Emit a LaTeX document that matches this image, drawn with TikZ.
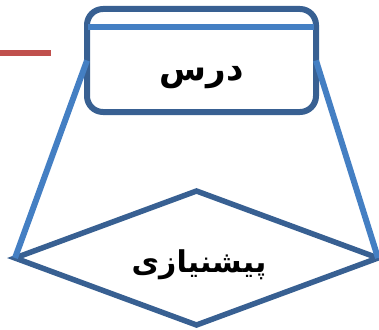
\documentclass[tikz,border=0pt]{standalone}
\usepackage{fontspec}
\usetikzlibrary{shapes.geometric}
\TeXXeTstate=1
\newfontfamily\arabicfont[Script=Arabic]{DejaVu Sans}
\definecolor{DarkBlue}{RGB}{56,96,146}
\definecolor{LightBlue}{RGB}{68,127,195}
\definecolor{LineRed}{RGB}{192,80,77}

\begin{document}
\begin{tikzpicture}[x=1pt,y=-1pt,
  box/.style={draw=DarkBlue,line width=6pt,rounded corners=16pt,minimum width=229pt,
              minimum height=103pt,outer sep=0pt},
  choice/.style={diamond,draw=DarkBlue,line width=5.5pt,minimum width=363pt,
                 minimum height=134pt,inner sep=0pt,outer sep=0pt},
  label/.style={font=\arabicfont\bfseries\fontsize{34}{40}\selectfont},
  link/.style={draw=LightBlue,line width=6pt}
]
\useasboundingbox (0,0) rectangle (379,329);
\node[box] (course) at (201.5,60.5) {};
\node[label] (coursetext) at (201.5,78) {\beginR درس\endR};
\node[choice] (prereq) at (196.5,258) {};
\node[label,font=\arabicfont\bfseries\fontsize{30}{36}\selectfont] (prereqtext) at (199,265) {\beginR پیشنیازی\endR};
\draw[LineRed,line width=6pt] (0,53) -- (51,53);
\draw[link] ([xshift=1pt,yshift=-18pt]course.north west) -- ([xshift=-2pt,yshift=-18pt]course.north east);
\draw[link] (course.west) -- (prereq.west);
\draw[link] (course.east) -- (prereq.east);
\end{tikzpicture}
\end{document}
